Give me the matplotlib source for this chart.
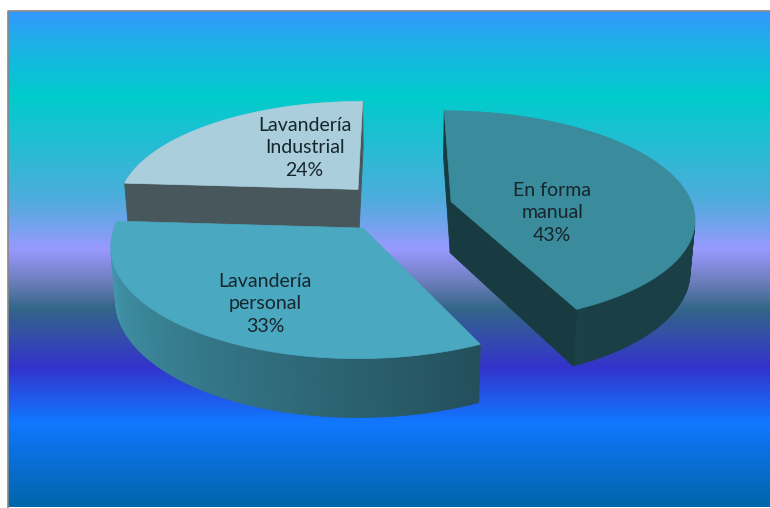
import numpy as np
import matplotlib.pyplot as plt
from matplotlib.patches import Polygon
from matplotlib.colors import LinearSegmentedColormap, to_rgb

# datos del grafico
etiquetas = ['En forma\nmanual', 'Lavandería\npersonal', 'Lavandería\nIndustrial']
porcentajes = [43, 33, 24]
colores = ['#3a8b9b', '#4aa8c0', '#aacedc']

# degradado del fondo (posicion vertical, color)
fondo_pos = [0.0, 0.06, 0.17, 0.38, 0.48, 0.55, 0.60, 0.72, 0.83, 1.0]
fondo_col = ['#3399ff', '#1eb0e6', '#00cccc', '#4eacdc', '#9999ff', '#6a7cb8',
             '#336688', '#3333cc', '#1177ff', '#0066aa']

#%% parametros de la vista 3D
cx, cy = 396, 207      # centro del pastel en pixeles
s = 242                # escala (pixeles por radio)
sin_t = 0.435
cos_t = np.sqrt(1 - sin_t**2)
D = 6.3                # distancia de la camara (en radios)
h = 0.24               # alto del pastel
e = 0.235              # separacion de las porciones


def proyectar(x, y, z):
    w = -y*cos_t + z*sin_t
    f = D/(D - w)
    return cx + s*x*f, cy - s*(y*sin_t + z*cos_t)*f


cam = D*np.array([0, -cos_t, sin_t])


def visible(n, p):
    return np.dot(n, cam - p) > 0


def sombra(color, k):
    return tuple(np.clip(np.array(to_rgb(color))*k, 0, 1))


#%% figura
fig = plt.figure(figsize=(7.7, 5.08), dpi=100)
ax = fig.add_axes([0, 0, 1, 1])
ax.set_xlim(0, 770)
ax.set_ylim(508, 0)
ax.axis('off')

cmap = LinearSegmentedColormap.from_list('fondo', list(zip(fondo_pos, fondo_col)))
grad = np.linspace(0, 1, 400).reshape(-1, 1)
ax.imshow(grad, cmap=cmap, aspect='auto', extent=[8, 772, 507, 11], zorder=0)
ax.plot([7.5, 7.5, 772], [508, 11, 11], color='#888888', lw=1.2, zorder=1)

total = sum(porcentajes)
angulos = np.cumsum([0] + [360*p/total for p in porcentajes])

porciones = []
for i, p in enumerate(porcentajes):
    a0, a1 = angulos[i], angulos[i+1]
    am = np.radians((a0 + a1)/2)
    c = np.array([e*np.sin(am), e*np.cos(am)])
    porciones.append((i, a0, a1, c))

# primero las porciones del fondo
porciones.sort(key=lambda q: -np.dot(np.r_[q[3], 0], cam))

label_r = [0.44, 0.63, 0.35]
label_dy = [21, 13, -17]

for i, a0, a1, c in porciones:
    col = colores[i]
    phi = np.radians(np.linspace(a0, a1, 120))
    rx = c[0] + np.sin(phi)
    ry = c[1] + np.cos(phi)
    caras = []

    # pared curva
    for k in range(len(phi) - 1):
        pm = (phi[k] + phi[k+1])/2
        n = np.array([np.sin(pm), np.cos(pm), 0])
        pc = np.array([c[0] + np.sin(pm), c[1] + np.cos(pm), -h/2])
        if visible(n, pc):
            pts = [proyectar(rx[k], ry[k], 0), proyectar(rx[k+1], ry[k+1], 0),
                   proyectar(rx[k+1], ry[k+1], -h), proyectar(rx[k], ry[k], -h)]
            grados = np.degrees(pm) % 360
            kf = np.interp(grados, [150, 275], [0.45, 0.97])
            caras.append((pts, sombra(col, kf)))

    # paredes radiales
    for a, giro in ((a0, -90), (a1, 90)):
        ar = np.radians(a)
        an = np.radians(a + giro)
        n = np.array([np.sin(an), np.cos(an), 0])
        pc = np.array([c[0] + 0.5*np.sin(ar), c[1] + 0.5*np.cos(ar), -h/2])
        if visible(n, pc):
            ex, ey = c[0] + np.sin(ar), c[1] + np.cos(ar)
            pts = [proyectar(c[0], c[1], 0), proyectar(ex, ey, 0),
                   proyectar(ex, ey, -h), proyectar(c[0], c[1], -h)]
            caras.append((pts, sombra(col, 0.42)))

    for pts, fc in caras:
        ax.add_patch(Polygon(pts, closed=True, facecolor=fc, edgecolor=fc,
                             lw=0.6, zorder=2))

    # cara superior
    top = [proyectar(c[0], c[1], 0)] + [proyectar(x, y, 0) for x, y in zip(rx, ry)]
    ax.add_patch(Polygon(top, closed=True, facecolor=col, edgecolor=col,
                         lw=0.5, zorder=3))

    # etiqueta
    am = np.radians((a0 + a1)/2)
    lx, ly = proyectar(c[0] + label_r[i]*np.sin(am), c[1] + label_r[i]*np.cos(am), 0)
    ax.text(lx, ly + label_dy[i], f'{etiquetas[i]}\n{porcentajes[i]}%',
            ha='center', va='center', fontsize=14, family=['Lato', 'DejaVu Sans'],
            color='#17252c', linespacing=1.4, zorder=4)

fig.savefig('out.png', dpi=100)
